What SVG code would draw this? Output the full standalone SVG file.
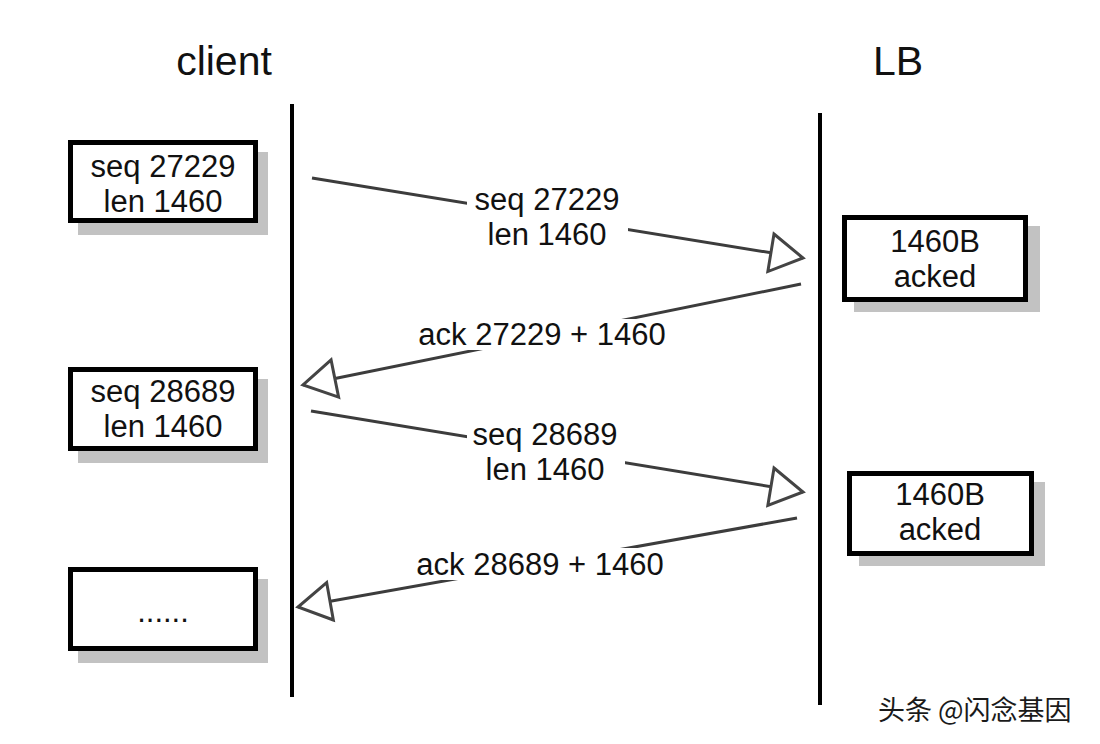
<svg xmlns="http://www.w3.org/2000/svg" width="1100" height="744" viewBox="0 0 1100 744">
<style>
.title{font-family:"Liberation Sans",Arial,sans-serif;font-size:41px;fill:#111;text-anchor:middle}
.lbl{font-family:"Liberation Sans",Arial,sans-serif;font-size:31px;fill:#111;text-anchor:middle}
.box{fill:#fff;stroke:#000;stroke-width:5}
.shadow{fill:#c2c2c2}
.life{stroke:#000;stroke-width:4}
.msg{stroke:#3c3c3c;stroke-width:3;fill:none;marker-end:url(#open)}
.bg{fill:#fff}
.wm{font-family:"Noto Sans CJK SC","Noto Sans",sans-serif;font-size:27px;fill:#1a1a1a}
</style>
<defs>
<marker id="open" markerUnits="userSpaceOnUse" markerWidth="40" markerHeight="44" refX="34" refY="20" orient="auto" overflow="visible">
<path d="M1.5,1 L34,20 L1.5,39 Z" fill="#fff" stroke="#444" stroke-width="3" stroke-linejoin="miter"/>
</marker>
</defs>
<rect width="1100" height="744" fill="#fff"/>

<g id="client">
<text class="title" x="224" y="75">client</text>
<line class="life" x1="292" y1="104" x2="292" y2="697"/>
</g>
<g id="lb">
<text class="title" x="898" y="75">LB</text>
<line class="life" x1="820" y1="113" x2="820" y2="705"/>
</g>

<g id="box-seq27229">
<rect class="shadow" x="78" y="152" width="190" height="83"/>
<rect class="box" x="70.5" y="142.5" width="185" height="78"/>
<text class="lbl" x="163" y="177">seq 27229</text>
<text class="lbl" x="163" y="212">len 1460</text>
</g>
<g id="box-seq28689">
<rect class="shadow" x="78" y="379" width="190" height="84"/>
<rect class="box" x="70.5" y="369.5" width="185" height="79"/>
<text class="lbl" x="163" y="402">seq 28689</text>
<text class="lbl" x="163" y="437">len 1460</text>
</g>
<g id="box-more">
<rect class="shadow" x="78" y="579" width="190" height="84"/>
<rect class="box" x="70.5" y="569.5" width="185" height="79"/>
<text class="lbl" x="163" y="622">......</text>
</g>
<g id="box-acked1">
<rect class="shadow" x="854" y="226" width="186" height="86"/>
<rect class="box" x="844.5" y="217.5" width="181" height="82"/>
<text class="lbl" x="935" y="252">1460B</text>
<text class="lbl" x="935" y="287">acked</text>
</g>
<g id="box-acked2">
<rect class="shadow" x="859" y="482" width="186" height="84"/>
<rect class="box" x="849.5" y="473.5" width="182" height="80"/>
<text class="lbl" x="940" y="505">1460B</text>
<text class="lbl" x="940" y="540">acked</text>
</g>

<g id="connectors">
<g id="msg1">
<line class="msg" x1="312" y1="178" x2="803" y2="258"/>
<rect class="bg" x="467" y="183" width="161" height="69"/>
<text class="lbl" x="547" y="210">seq 27229</text>
<text class="lbl" x="547" y="245">len 1460</text>
</g>
<g id="msg2">
<line class="msg" x1="801" y1="284" x2="303" y2="385"/>
<rect class="bg" x="414" y="319" width="258" height="31"/>
<text class="lbl" x="542" y="345">ack 27229 + 1460</text>
</g>
<g id="msg3">
<line class="msg" x1="311" y1="411" x2="803" y2="492"/>
<rect class="bg" x="467" y="417" width="158" height="69"/>
<text class="lbl" x="545" y="445">seq 28689</text>
<text class="lbl" x="545" y="480">len 1460</text>
</g>
<g id="msg4">
<line class="msg" x1="797" y1="518" x2="298" y2="607"/>
<rect class="bg" x="412" y="548" width="258" height="32"/>
<text class="lbl" x="540" y="575">ack 28689 + 1460</text>
</g>
</g>

<text class="wm" x="878" y="720">头条 @闪念基因</text>
</svg>
